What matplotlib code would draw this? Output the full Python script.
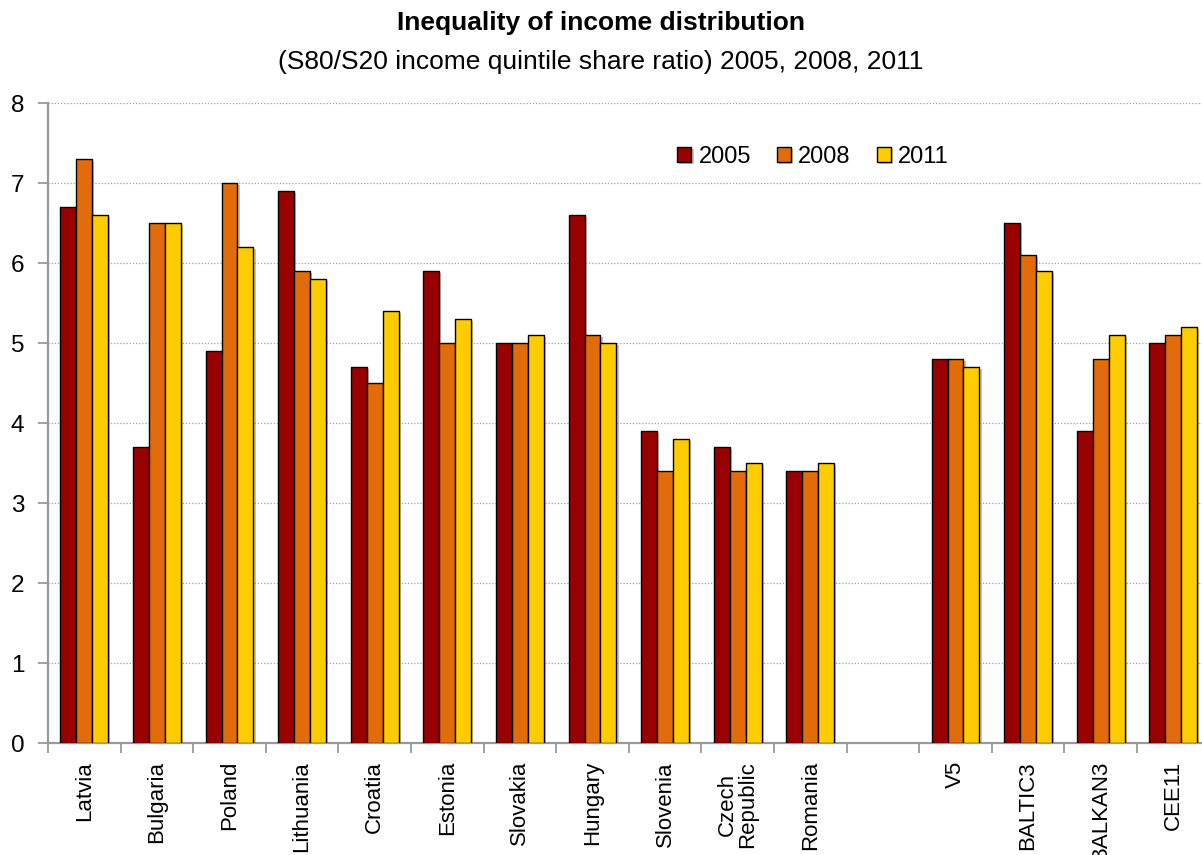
import numpy as np
import matplotlib
matplotlib.use("Agg")
import matplotlib.pyplot as plt
import matplotlib.patheffects as pe

plt.rcParams['font.family'] = ['Liberation Sans', 'DejaVu Sans']

categories = ['Latvia', 'Bulgaria', 'Poland', 'Lithuania', 'Croatia', 'Estonia',
              'Slovakia', 'Hungary', 'Slovenia', 'Czech\nRepublic', 'Romania', '',
              'V5', 'BALTIC3', 'BALKAN3', 'CEE11']
years = ['2005', '2008', '2011']
v2005 = [6.7, 3.7, 4.9, 6.9, 4.7, 5.9, 5.0, 6.6, 3.9, 3.7, 3.4, np.nan, 4.8, 6.5, 3.9, 5.0]
v2008 = [7.3, 6.5, 7.0, 5.9, 4.5, 5.0, 5.0, 5.1, 3.4, 3.4, 3.4, np.nan, 4.8, 6.1, 4.8, 5.1]
v2011 = [6.6, 6.5, 6.2, 5.8, 5.4, 5.3, 5.1, 5.0, 3.8, 3.5, 3.5, np.nan, 4.7, 5.9, 5.1, 5.2]
colors = ['#990000', '#E36C0A', '#FFCC00']

fig = plt.figure(figsize=(12.02, 8.55), dpi=100)
ax = fig.add_axes([48 / 1202, 1 - 743 / 855, 1161.6 / 1202, 640 / 855])

x = np.arange(len(categories))
w = 0.22
shadow = [pe.SimplePatchShadow(offset=(1.5, -1.5), shadow_rgbFace='#888888', alpha=0.5), pe.Normal()]
for i, (vals, col, yr) in enumerate(zip([v2005, v2008, v2011], colors, years)):
    bars = ax.bar(x + (i - 1) * w, vals, w, color=col, edgecolor='black',
                  linewidth=1.0, label=yr, zorder=3)
    for b in bars:
        b.set_path_effects(shadow)

ax.set_xlim(-0.5, len(categories) - 0.5)
ax.set_ylim(0, 8)
ax.set_yticks(range(0, 9))
ax.yaxis.grid(True, linestyle=(0, (1, 1.5)), color='#a0a0a0', linewidth=0.9, zorder=0)
ax.set_axisbelow(True)

ax.set_xticks(x)
ax.set_xticklabels(categories, rotation=90, va='top', ha='center',
                   fontsize=16, linespacing=0.95)
ax.set_xticks(np.arange(-0.5, len(categories)), minor=True)
ax.tick_params(axis='x', which='major', length=0, pad=13)
ax.tick_params(axis='x', which='minor', length=7, width=1.3, color='#999999', direction='out')
ax.tick_params(axis='y', length=7, width=1.3, color='#999999', labelsize=17.5, pad=10)

for s in ['top', 'right']:
    ax.spines[s].set_visible(False)
for s in ['left', 'bottom']:
    ax.spines[s].set_color('#999999')
    ax.spines[s].set_linewidth(1.6)

fig.text(0.5, 1 - 23 / 855, 'Inequality of income distribution', ha='center', va='center',
         fontsize=19, fontweight='bold')
fig.text(0.5, 1 - 62 / 855, '(S80/S20 income quintile share ratio) 2005, 2008, 2011',
         ha='center', va='center', fontsize=19)

fig.legend(loc='center', bbox_to_anchor=(813 / 1202, 1 - 157 / 855), ncol=3,
           frameon=False, fontsize=17, handlelength=0.6, handleheight=0.6,
           handletextpad=0.3, columnspacing=1.1)

fig.savefig('out.png', dpi=100)
